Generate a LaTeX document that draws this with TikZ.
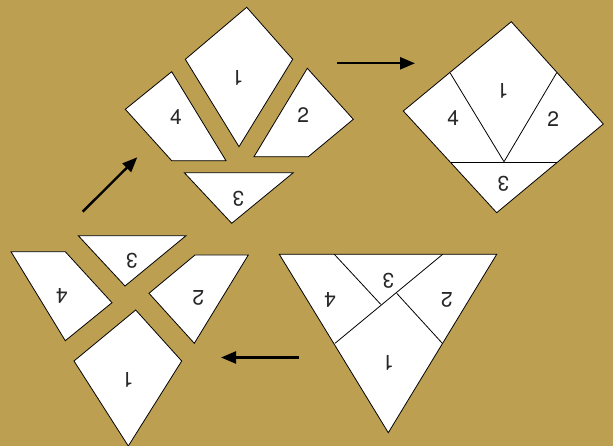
\documentclass[tikz,border=0pt]{standalone}
\usepackage{fontspec}
\setsansfont{TeX Gyre Heros}
\usetikzlibrary{arrows.meta}
\definecolor{bgtan}{RGB}{188,159,80}
\definecolor{numgray}{RGB}{40,40,40}
\tikzset{
  piece/.style={draw=black,fill=white,line width=0.8pt,line join=miter},
  num/.style={font=\sffamily\fontsize{21}{21}\selectfont,text=numgray,inner sep=0pt},
  flip/.style={num,rotate=180},
  move/.style={line width=2.4pt,-{Triangle[length=15pt,width=12pt]}}
}
\begin{document}
\begin{tikzpicture}[x=1pt,y=-1pt]
	  \fill[bgtan] (0,0) rectangle (613,446);
	  \useasboundingbox (0,0) rectangle (613,446);
	  % triangle, cut into four pieces
	  \draw[piece] (279.3,254.3) -- (496.7,254.3) -- (388.3,432.7) -- cycle;
	  \draw[piece] (442.7,254.3) -- (335,343.3);
	  \draw[piece] (334.3,254.3) -- (380.7,304.3);
	  \draw[piece] (396.7,293.3) -- (442.3,343.3);
	  \node[flip] (t1) at (388.3,363.3) {1};
	  \node[flip] (t2) at (446.7,300) {2};
	  \node[flip] (t3) at (388.3,281) {3};
	  \node[flip] (t4) at (330,300) {4};
	  % pieces pulled apart
	  \draw[piece] (135.7,310) -- (181.7,361) -- (128.3,446) -- (74,361) -- cycle;
	  \draw[piece] (195,255) -- (248.3,255) -- (194.3,343.3) -- (149,293.3) -- cycle;
	  \draw[piece] (78.3,235.7) -- (186,235.7) -- (125,286) -- cycle;
	  \draw[piece] (11,251.7) -- (65.3,251.7) -- (112,302.7) -- (65.3,340.7) -- cycle;
	  \node[flip] (a1) at (127.7,380) {1};
	  \node[flip] (a2) at (198.3,298.3) {2};
	  \node[flip] (a3) at (131.7,261) {3};
	  \node[flip] (a4) at (61.7,295.7) {4};
	  % pieces turned round
	  \draw[piece] (246.7,7.3) -- (292.7,59.3) -- (239,146.7) -- (185.3,59.3) -- cycle;
	  \draw[piece] (307.3,68.3) -- (353.3,119.3) -- (308.3,156.7) -- (254,156.7) -- cycle;
	  \draw[piece] (184.3,172.7) -- (293.3,172.7) -- (231.7,223.3) -- cycle;
	  \draw[piece] (171.7,71.7) -- (226,160.7) -- (171.7,160.7) -- (125.3,109.3) -- cycle;
	  \node[flip] (b1) at (237.7,78.3) {1};
	  \node[num] (b2) at (303.3,115) {2};
	  \node[flip] (b3) at (238.3,198.3) {3};
	  \node[num] (b4) at (176,117.3) {4};
	  % square
	  \draw[piece] (511.3,21.7) -- (603.3,124) -- (496.7,212.7) -- (403.3,111) -- cycle;
	  \draw[piece] (450,72.7) -- (504,161.7) -- (556.7,72.7);
	  \draw[piece] (450.7,162.3) -- (556.7,162.3);
	  \node[flip] (s1) at (502.7,91) {1};
	  \node[num] (s2) at (553.3,119.3) {2};
	  \node[flip] (s3) at (503.3,183.3) {3};
	  \node[num] (s4) at (453.3,118.3) {4};
	  % arrows
	  \coordinate (m1) at (299,357.5);
	  \coordinate (m2) at (221,357.5);
	  \coordinate (m3) at (82.7,211.7);
	  \coordinate (m4) at (137.3,157.3);
	  \coordinate (m5) at (337.3,63.3);
	  \coordinate (m6) at (415,63.3);
	  \draw[move] (m1) -- (m2);
	  \draw[move] (m3) -- (m4);
	  \draw[move] (m5) -- (m6);
	\end{tikzpicture}
\end{document}
